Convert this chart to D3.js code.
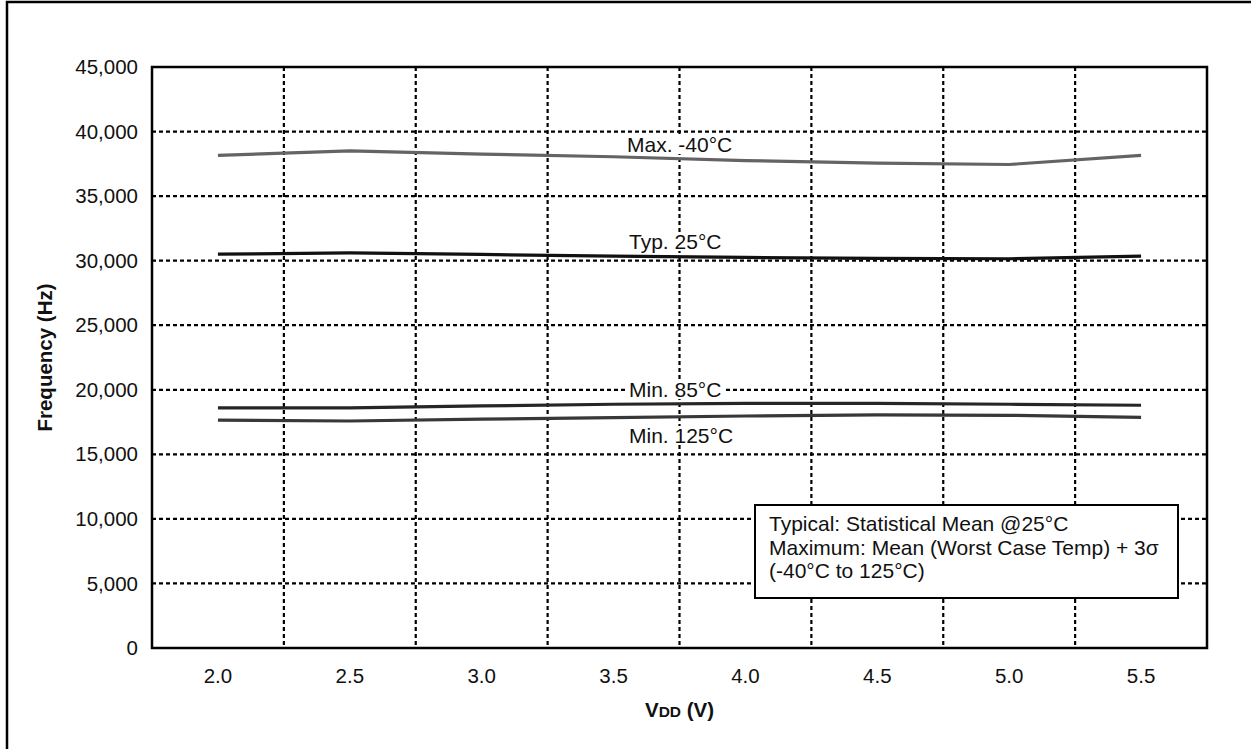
<!DOCTYPE html>
<html>
<head>
<meta charset="utf-8">
<script src="https://cdn.jsdelivr.net/npm/d3@7"></script>
<style>
    body { margin: 0; background: #fff; }
    svg { display: block; font-family: "Liberation Sans", Arial, sans-serif; }
</style>
</head>
<body>
<div id="chart"></div>
<script>
// categories (VDD in volts)
const vddLabels = ["2.0", "2.5", "3.0", "3.5", "4.0", "4.5", "5.0", "5.5"];

// series values (Hz)
const maxMinus40 = [38150, 38500, 38250, 38050, 37750, 37550, 37450, 38150];
const typ25 = [30500, 30600, 30480, 30350, 30250, 30180, 30150, 30350];
const min85 = [18600, 18600, 18750, 18880, 18950, 18950, 18880, 18800];
const min125 = [17650, 17580, 17730, 17840, 17970, 18050, 18020, 17870];

// tick values
const yTicks = [0, 5000, 10000, 15000, 20000, 25000, 30000, 35000, 40000, 45000];

const seriesNames = ["Max. -40°C", "Typ. 25°C", "Min. 85°C", "Min. 125°C"];
const noteLines = [
    "Typical: Statistical Mean @25°C",
    "Maximum: Mean (Worst Case Temp) + 3σ",
    "(-40°C to 125°C)"
];

// svg area
const W = 1251, H = 749;
const margin = {top: 67, right: 44, bottom: 101, left: 152};
const width = W - margin.left - margin.right;
const height = H - margin.top - margin.bottom;

const svg = d3.select("#chart").append("svg")
    .attr("width", W)
    .attr("height", H);

// outer frame (right and bottom fall off the page)
svg.append("rect")
    .attr("x", 7).attr("y", 2)
    .attr("width", W + 20).attr("height", H + 20)
    .attr("fill", "none")
    .attr("stroke", "#000")
    .attr("stroke-width", 2.5);

const g = svg.append("g")
    .attr("transform", "translate(" + margin.left + "," + margin.top + ")");

// scales
const x = d3.scaleBand().domain(vddLabels).range([0, width]).padding(0);
const y = d3.scaleLinear().domain([0, 45000]).range([height, 0]);

// dotted grid
g.selectAll(".hgrid")
    .data(yTicks.slice(1, -1))
    .enter().append("line")
    .attr("class", "hgrid")
    .attr("x1", 0).attr("x2", width)
    .attr("y1", d => y(d)).attr("y2", d => y(d))
    .attr("stroke", "#000")
    .attr("stroke-width", 2.2)
    .attr("stroke-dasharray", "4,3");

g.selectAll(".vgrid")
    .data(vddLabels.slice(1))
    .enter().append("line")
    .attr("class", "vgrid")
    .attr("x1", d => x(d)).attr("x2", d => x(d))
    .attr("y1", 0).attr("y2", height)
    .attr("stroke", "#000")
    .attr("stroke-width", 2.2)
    .attr("stroke-dasharray", "4,3");

// axes
const yAxis = d3.axisLeft(y)
    .tickValues(yTicks)
    .tickSize(0)
    .tickPadding(14)
    .tickFormat(d3.format(","));

g.append("g")
    .attr("class", "y-axis")
    .call(yAxis)
    .call(s => s.select(".domain").remove())
    .selectAll("text")
    .attr("font-size", 20.5)
    .attr("font-family", "Liberation Sans, Arial, sans-serif")
    .attr("fill", "#111");

const xAxis = d3.axisBottom(x)
    .tickSize(0)
    .tickPadding(20);

g.append("g")
    .attr("class", "x-axis")
    .attr("transform", "translate(0," + height + ")")
    .call(xAxis)
    .call(s => s.select(".domain").remove())
    .selectAll("text")
    .attr("font-size", 20.5)
    .attr("font-family", "Liberation Sans, Arial, sans-serif")
    .attr("fill", "#111");

// series labels with white background
const labelPos = [
    {x: 627, y: 152},
    {x: 629, y: 249},
    {x: 629, y: 397},
    {x: 629, y: 443}
];
const labels = svg.append("g").attr("class", "labels");
seriesNames.forEach(function (name, i) {
    const lg = labels.append("g");
    const bg = lg.append("rect").attr("fill", "#fff");
    const t = lg.append("text")
        .attr("x", labelPos[i].x)
        .attr("y", labelPos[i].y)
        .attr("font-size", 21)
        .attr("fill", "#111")
        .text(name);
    const bb = t.node().getBBox();
    bg.attr("x", bb.x - 2).attr("y", bb.y + 2)
        .attr("width", bb.width + 4).attr("height", bb.height - 4);
});

// data lines
const line = d3.line()
    .x((d, i) => x(vddLabels[i]) + x.bandwidth() / 2)
    .y(d => y(d));

const seriesData = [maxMinus40, typ25, min85, min125];
const seriesColors = ["#646464", "#111111", "#262626", "#383838"];

const lines = svg.append("g")
    .attr("transform", "translate(" + margin.left + "," + margin.top + ")");
lines.selectAll(".series")
    .data(seriesData)
    .enter().append("path")
    .attr("class", "series")
    .attr("d", line)
    .attr("fill", "none")
    .attr("stroke", (d, i) => seriesColors[i])
    .attr("stroke-width", 3.2);

// plot frame
lines.append("rect")
    .attr("width", width).attr("height", height)
    .attr("fill", "none")
    .attr("stroke", "#000")
    .attr("stroke-width", 2.5);

// note box
const note = svg.append("g").attr("transform", "translate(755,505)");
note.append("rect")
    .attr("width", 423).attr("height", 93)
    .attr("fill", "#fff")
    .attr("stroke", "#000")
    .attr("stroke-width", 2);
note.selectAll("text")
    .data(noteLines)
    .enter().append("text")
    .attr("x", 14)
    .attr("y", (d, i) => 26 + i * 23.5)
    .attr("font-size", 21)
    .attr("fill", "#111")
    .text(d => d);

// axis titles
svg.append("text")
    .attr("transform", "translate(52," + (margin.top + height / 2) + ") rotate(-90)")
    .attr("text-anchor", "middle")
    .attr("font-size", 20.5)
    .attr("font-weight", "bold")
    .attr("fill", "#111")
    .text("Frequency (Hz)");

const xt = svg.append("text")
    .attr("x", margin.left + width / 2)
    .attr("y", 717)
    .attr("text-anchor", "middle")
    .attr("font-weight", "bold")
    .attr("font-size", 20.5)
    .attr("fill", "#111");
xt.append("tspan").text("V");
xt.append("tspan").attr("font-size", 15.5).text("DD");
xt.append("tspan").text(" (V)");
</script>
</body>
</html>
